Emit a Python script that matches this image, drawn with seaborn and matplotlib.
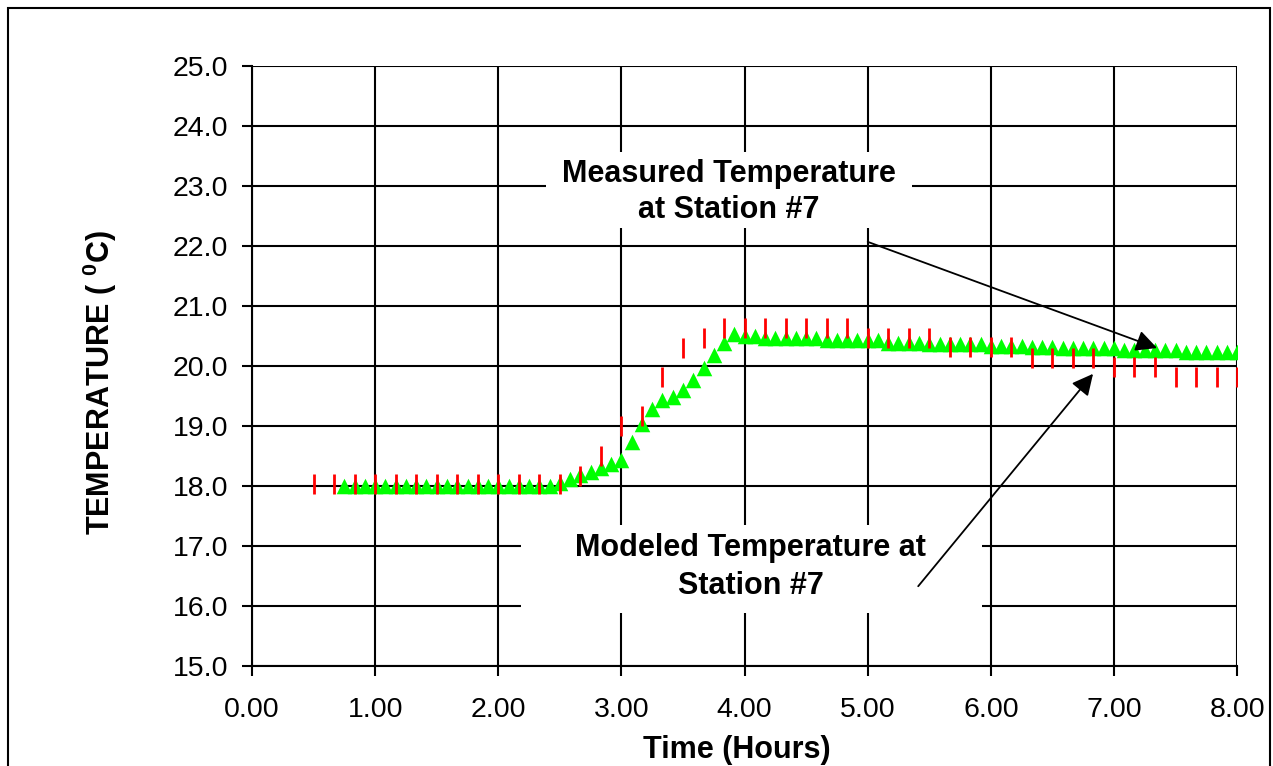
import numpy as np
import pandas as pd
import matplotlib
matplotlib.use('Agg')
import matplotlib.pyplot as plt
import matplotlib.patches as patches
import seaborn as sns

# Modeled temperature (red ticks), every 10 minutes from 0.5 h
modeled_time = [round(0.5 + k / 6, 4) for k in range(46)]
modeled_temp = ([18.04] * 13 +
                [18.17, 18.50, 19.00, 19.17, 19.81, 20.30, 20.47] +
                [20.64] * 7 +
                [20.47] * 4 +
                [20.31] * 4 +
                [20.14] * 4 +
                [19.98] * 3 +
                [19.81] * 4)

# Measured temperature (green triangles), every 5 minutes from 0.75 h
measured_time = [round(0.75 + i / 12, 4) for i in range(88)]
measured_temp = ([18.00] * 21 +
                 [18.05, 18.12, 18.18, 18.24, 18.30, 18.37, 18.43, 18.74,
                  19.03, 19.29, 19.43, 19.48, 19.60, 19.77, 19.97, 20.19,
                  20.38, 20.53, 20.50, 20.50] +
                 [20.47] * 6 +
                 [20.43] * 6 +
                 [20.39] * 4 +
                 [20.36] * 6 +
                 [20.34] * 4 +
                 [20.32] * 3 +
                 [20.30] * 6 +
                 [20.27] * 6 +
                 [20.23] * 6)

x_ticks = [0, 1, 2, 3, 4, 5, 6, 7, 8]
y_ticks = [15, 16, 17, 18, 19, 20, 21, 22, 23, 24, 25]

sns.set_theme(style='ticks')
plt.rcParams['font.family'] = ['Liberation Sans', 'DejaVu Sans']
plt.rcParams['mathtext.fontset'] = 'custom'
plt.rcParams['mathtext.rm'] = 'Liberation Sans'
plt.rcParams['mathtext.bf'] = 'Liberation Sans:bold'
plt.rcParams['text.color'] = 'black'
plt.rcParams['axes.labelcolor'] = 'black'
plt.rcParams['xtick.color'] = 'black'
plt.rcParams['ytick.color'] = 'black'

df_mod = pd.DataFrame({'Time': modeled_time, 'Temp': modeled_temp})
df_meas = pd.DataFrame({'Time': measured_time, 'Temp': measured_temp})

fig = plt.figure(figsize=(12.73, 7.66), dpi=100)
ax = fig.add_axes([0.198, 0.1305, 0.7738, 0.7833])

sns.scatterplot(x='Time', y='Temp', data=df_meas, marker='^', s=125,
                color='#00FF00', linewidth=0, ax=ax, zorder=3)
sns.scatterplot(x='Time', y='Temp', data=df_mod, marker='|', s=225,
                color='#FF0000', linewidth=2, ax=ax, zorder=4)

ax.set_xlim(0, 8)
ax.set_ylim(15, 25)
ax.set_xticks(x_ticks)
ax.set_yticks(y_ticks)
ax.set_xticklabels([f'{v:.2f}' for v in x_ticks], fontsize=20.5)
ax.set_yticklabels([f'{v:.1f}' for v in y_ticks], fontsize=20.5)
ax.grid(True, color='black', lw=1.5)
ax.set_axisbelow(True)
for s in ['top', 'right']:
    ax.spines[s].set_visible(False)
for s in ['left', 'bottom']:
    ax.spines[s].set_color('black')
    ax.spines[s].set_linewidth(1.5)
ax.tick_params(axis='both', direction='out', length=7.5, width=1.5, colors='black')
ax.tick_params(axis='x', pad=15)
ax.tick_params(axis='y', pad=9.5)

ax.set_xlabel('Time (Hours)', fontsize=22, fontweight='bold')
ax.set_ylabel(r'TEMPERATURE ( $^{\mathbf{0}}$C)', fontsize=22, fontweight='bold')
ax.xaxis.set_label_coords(0.492, -0.115)
ax.yaxis.set_label_coords(-0.135, 0.472)

# white label boxes that hide the gridlines
ax.add_patch(patches.Rectangle((2.39, 22.30), 2.97, 1.27, fc='white', ec='none', zorder=2.5))
ax.add_patch(patches.Rectangle((2.185, 15.88), 3.745, 1.47, fc='white', ec='none', zorder=2.5))
ax.text(3.875, 22.9, 'Measured Temperature\nat Station #7', ha='center', va='center',
        fontsize=22, fontweight='bold', linespacing=1.3, zorder=2.6)
ax.text(4.05, 16.65, 'Modeled Temperature at\nStation #7', ha='center', va='center',
        fontsize=22, fontweight='bold', linespacing=1.35, zorder=2.6)

arrow = dict(arrowstyle='-|>', mutation_scale=32, lw=1.3, color='black',
             shrinkA=0, shrinkB=0)
ax.annotate('', xy=(7.35, 20.30), xytext=(5.0, 22.07), arrowprops=arrow, zorder=5)
ax.annotate('', xy=(6.83, 19.87), xytext=(5.41, 16.33), arrowprops=arrow, zorder=5)

if ax.get_legend() is not None:
    ax.get_legend().remove()

# outer frame around the chart
fig.patches.append(patches.Rectangle((8 / 1273, -0.05), 1262 / 1273, 1.05 - 8 / 766,
                                     transform=fig.transFigure, fill=False,
                                     ec='black', lw=1.5))

fig.savefig('out.png', dpi=100)
